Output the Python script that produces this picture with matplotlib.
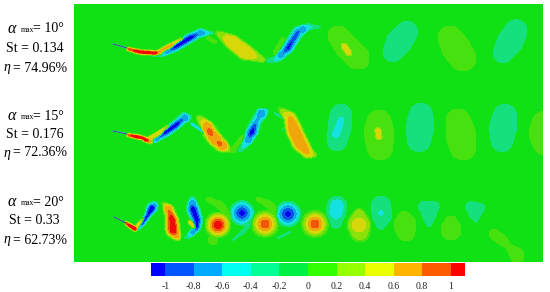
import numpy as np
import matplotlib
matplotlib.use('Agg')
import matplotlib.pyplot as plt
from matplotlib.colors import ListedColormap, BoundaryNorm
from matplotlib.cm import ScalarMappable

W, H = 550, 292

alpha_max = ['10°', '15°', '20°']
st = ['0.134', '0.176', '0.33']
eta = ['74.96%', '72.36%', '62.73%']
label_y = [(29, 49, 68), (116, 134, 153), (202, 220, 240)]

levels = [-1.1, -1, -0.8, -0.6, -0.4, -0.2, 0, 0.2, 0.4, 0.6, 0.8, 1, 1.1]
tick_values = [-1, -0.8, -0.6, -0.4, -0.2, 0, 0.2, 0.4, 0.6, 0.8, 1]
tick_labels = ['-1', '-0.8', '-0.6', '-0.4', '-0.2', '0', '0.2', '0.4', '0.6', '0.8', '1']

# colours as they look in the legend and (a bit darker) in the field
legend_colors = ['#0000ff', '#0055ff', '#00aaff', '#00fff0', '#00ff96', '#00f046',
                 '#32ff00', '#96ff00', '#ebff00', '#ffb400', '#ff5a00', '#ff0000']
field_colors = ['#0000eb', '#0a50eb', '#0fa5e6', '#14e1e1', '#14e17d', '#0fe114',
                '#46e10f', '#8ce10a', '#d7d70a', '#f0a50a', '#f0550a', '#f00a0a']
background = -0.1

# vorticity: each stroke is a list of (x, y, half width, value)
row1 = [
    [(150, 55, 2, -0.3), (163, 54, 3.5, -0.45), (175, 47, 6, -1.2), (190, 38, 6, -1.3),
     (200, 33, 5.5, -0.75), (213, 33, 2, -0.3)],
    [(113, 44, 1.2, -0.9), (127, 48, 1.4, -1.05)],
    [(128, 49, 1.8, 1.1), (140, 52, 2.5, 1.4), (155, 53, 2.5, 1.3), (160, 52, 2.2, 0.65)],
    [(160, 51, 1.8, 0.62), (172, 45, 2.5, 0.65), (182, 39, 1.8, 0.55)],
    [(208, 38, 1.5, 0.2), (215, 42, 1.5, 0.2)],
    [(218, 33, 2.5, 0.2), (232, 42, 7.5, 0.58), (245, 52, 8, 0.58), (263, 60, 2.5, 0.25)],
    [(265, 61, 2, -0.3), (277, 59, 4.5, -0.45), (288, 48, 7, -1.15), (298, 32, 7, -0.95),
     (308, 27, 4.5, -0.45), (320, 27, 1.8, -0.3)],
    [(275, 53, 2, 0.15), (283, 39, 1.5, 0.15)],
    [(338, 36, 10, 0.17), (347, 47, 12, 0.17), (358, 58, 11.5, 0.17)],
    [(344, 46, 2.8, 0.58), (349, 53, 2.8, 0.58)],
    [(407, 32, 12, -0.38), (399, 42, 14, -0.38), (393, 52, 11, -0.38)],
    [(450, 38, 12, 0.18), (456, 48, 14, 0.18), (463, 58, 13, 0.18)],
    [(516, 31, 12.5, -0.38), (510, 42, 14, -0.38), (503, 53, 11, -0.38)],
]
row2 = [
    [(113, 131, 1.2, -0.9), (127, 134, 1.4, -1.05)],
    [(128, 135, 1.8, 1.1), (138, 137, 2.5, 1.4), (143, 138, 2, 1.2), (146, 140, 2.5, 1.4), (150, 141, 2.8, 0.68)],
    [(148, 139, 1.8, 0.5), (158, 134, 2.2, 0.58), (168, 127, 2.2, 0.6)],
    [(155, 141, 3, -0.6), (166, 132, 6, -1.25), (176, 125, 6, -1.25), (184, 118, 6.5, -0.8), (190, 117, 3, -0.3)],
    [(192, 124, 2.5, -0.5), (204, 132, 2.5, -0.5)],
    [(199, 118, 3, 0.2), (206, 125, 5.5, 0.6), (210, 132, 8, 1.0), (214, 138, 7, 0.65),
     (220, 144, 7.5, 0.95), (228, 150, 3, 0.2)],
    [(233, 150, 2.5, 0.15), (243, 137, 1.8, 0.15)],
    [(240, 150, 3.5, -0.3), (247, 142, 5.5, -0.55), (252, 132, 7.5, -1.25), (256, 122, 6.5, -0.75),
     (261, 114, 7, -0.75), (268, 110, 2, -0.3)],
    [(275, 113, 1.8, -0.45), (285, 120, 1.8, -0.45)],
    [(282, 128, 1.5, -0.3), (285, 132, 1.5, -0.3)],
    [(280, 109, 2, 0.15), (290, 118, 6.5, 0.6), (294, 130, 8.5, 0.68), (300, 143, 8.5, 0.68),
     (308, 153, 5.5, 0.6), (315, 155, 2, 0.15)],
    [(341, 115, 12, -0.38), (340, 125, 13, -0.38), (337, 141, 11, -0.38)],
    [(341, 120, 4.5, -0.55), (336, 134, 5.5, -0.55)],
    [(379, 122, 12, 0.17), (379, 133, 15, 0.17), (380, 147, 13, 0.17)],
    [(378, 131, 3, 0.58), (379, 137, 2.8, 0.58)],
    [(421, 115, 13, -0.38), (420, 127, 15, -0.38), (419, 140, 13, -0.38)],
    [(458, 121, 12, 0.17), (461, 135, 15, 0.17), (463, 147, 13, 0.17)],
    [(505, 116, 13, -0.38), (503, 128, 15, -0.38), (502, 141, 12, -0.38)],
    [(545, 124, 13, 0.17), (544, 133, 15, 0.17), (545, 143, 12, 0.17)],
]
row3 = [
    [(114, 217, 1.2, -0.9), (126, 223, 1.4, -1.05)],
    [(126, 223, 1.8, 1.2), (135, 229, 2.5, 1.4)],
    [(136, 228, 1.8, 0.6), (147, 215, 1.8, 0.6)],
    [(137, 230, 2, -0.4), (142, 224, 4, -1.1), (148, 215, 4.5, -1.2), (152, 208, 7, -1.35), (156, 204, 3, -0.3)],
    [(164, 204, 2, 0.2), (169, 210, 5.5, 0.8), (172, 220, 7, 1.25), (173, 230, 8, 1.35), (178, 238, 3, 0.3)],
    [(190, 222, 1.8, 0.55), (195, 228, 1.8, 0.55)],
    [(192, 199, 4, -0.3), (193, 209, 8, -1.25), (197, 220, 7, -1.25), (197, 228, 5, -1.1),
     (190, 235, 4, -0.45), (185, 238, 2, -0.3)],
    [(218, 225, 13, 1.2)],
    [(208, 199, 2, 0.15), (220, 205, 3.5, 0.17), (229, 216, 3, 0.17)],
    [(213, 240, 5, 0.17)],
    [(242, 213, 13.5, -1.15)],
    [(233, 240, 2, -0.25), (243, 232, 3, -0.3), (250, 224, 3, -0.3)],
    [(265, 224, 13.5, 1.0)],
    [(258, 199, 2, 0.15), (270, 205, 3.5, 0.17), (277, 214, 3, 0.17)],
    [(288, 214, 14, -1.15)],
    [(278, 238, 2, -0.4), (290, 232, 2, -0.4)],
    [(315, 224, 13.5, 1.0)],
    [(337, 206, 11, -0.45), (336, 212, 11, -0.45), (336, 224, 6, -0.25)],
    [(359, 213, 5, 0.25), (359, 225, 12, 0.44), (360, 232, 10, 0.3)],
    [(381, 206, 11, -0.38), (382, 215, 11, -0.38), (381, 226, 5, -0.3)],
    [(381, 213, 3.5, -0.6)],
    [(404, 216, 5, 0.17), (405, 225, 11, 0.17), (406, 232, 9, 0.17)],
    [(424, 207, 7, -0.35), (434, 207, 6.5, -0.35)],
    [(429, 213, 9, -0.35), (429, 224, 4, -0.35)],
    [(451, 222, 6, 0.17), (451, 230, 10, 0.17)],
    [(471, 207, 6.5, -0.33), (480, 208, 6, -0.33)],
    [(475, 212, 8, -0.33), (476, 221, 2.5, -0.33)],
    [(494, 234, 5, 0.15), (502, 240, 5, 0.15), (508, 246, 2.5, 0.15), (517, 255, 7, 0.15), (518, 262, 4, 0.15)],
]

# fish bodies, thin dark line on top of the field
fish_x = [[113, 127], [113, 127], [114, 126]]
fish_y = [[44, 48], [131, 134], [217, 223]]


def add_stroke(field, x, y, nodes):
    # march a soft disc along the stroke, keep whichever value is furthest from the background
    nodes = np.array(nodes, dtype=float)
    if len(nodes) == 1:
        nodes = np.vstack([nodes, nodes])
    seg = np.hypot(np.diff(nodes[:, 0]), np.diff(nodes[:, 1]))
    s = np.concatenate([[0], np.cumsum(seg)])
    steps = np.arange(0, s[-1] + 0.5, 0.5)
    px = np.interp(steps, s, nodes[:, 0])
    py = np.interp(steps, s, nodes[:, 1])
    pw = np.interp(steps, s, nodes[:, 2])
    pv = np.interp(steps, s, nodes[:, 3])
    for cx, cy, w, v in zip(px, py, pw, pv):
        i0, i1 = np.searchsorted(x, [cx - w, cx + w])
        j0, j1 = np.searchsorted(y, [cy - w, cy + w])
        if i1 <= i0 or j1 <= j0:
            continue
        xx, yy = np.meshgrid(x[i0:i1], y[j0:j1])
        r = np.hypot(xx - cx, yy - cy) / w
        outer = 0.0 if v > 0 else -0.2
        # strong cores fall off like a cone, weak patches stay flat then drop at the edge
        q = 1.3 if abs(v) >= 0.75 else 4
        g = v + (outer - v) * r ** q
        g = np.maximum(g, background) if v > 0 else np.minimum(g, background)
        sub = field[j0:j1, i0:i1]
        mask = np.abs(g - background) > np.abs(sub - background)
        sub[mask] = g[mask]


def smooth(field):
    # rounds off the corners left by the discs
    kernel = np.array([1, 2, 3, 2, 1]) / 9
    out = np.apply_along_axis(lambda c: np.convolve(np.pad(c, 2, mode='edge'), kernel, mode='valid'), 0, field)
    out = np.apply_along_axis(lambda c: np.convolve(np.pad(c, 2, mode='edge'), kernel, mode='valid'), 1, out)
    return out


x = np.arange(74, 543.25, 0.5)
y = np.arange(4, 262.25, 0.5)
field = np.full((len(y), len(x)), background)
for strokes in (row1, row2, row3):
    for nodes in strokes:
        add_stroke(field, x, y, nodes)
field = np.clip(smooth(field), -1.09, 1.09)

fig = plt.figure(figsize=(W / 100, H / 100), dpi=100)
plt.rcParams['font.family'] = ['Liberation Serif', 'DejaVu Serif']

ax = fig.add_axes([74 / W, 1 - 262 / H, 469 / W, 258 / H])
ax.contourf(x, y, field, levels=levels, colors=field_colors)
for fx, fy in zip(fish_x, fish_y):
    ax.plot(fx, fy, color='#5a4070', lw=0.7, solid_capstyle='round')
ax.set_xlim(74, 543)
ax.set_ylim(262, 4)
ax.axis('off')

# colour bar under the field
cax = fig.add_axes([151 / W, 1 - 276 / H, 314 / W, 13 / H])
sm = ScalarMappable(norm=BoundaryNorm(levels, 12), cmap=ListedColormap(legend_colors))
cb = fig.colorbar(sm, cax=cax, orientation='horizontal', spacing='proportional',
                  ticks=tick_values, drawedges=False)
cb.ax.set_xticklabels(tick_labels, fontsize=7, color='#222222')
cb.ax.tick_params(which='both', length=0, pad=4.5)
cb.ax.minorticks_off()
cb.outline.set_visible(False)

# labels on the left, in figure pixels
tax = fig.add_axes([0, 0, 1, 1], facecolor='none')
tax.set_xlim(0, W)
tax.set_ylim(H, 0)
tax.axis('off')
fs = 10
for a, s, e, (y1, y2, y3) in zip(alpha_max, st, eta, label_y):
    tax.text(8, y1, 'α', fontsize=fs + 1.5, style='italic', va='center', ha='left')
    tax.text(21, y1 + 1, 'max', fontsize=5.5, va='center', ha='left')
    tax.text(33, y1, '= ' + a, fontsize=fs, va='center', ha='left')
    tax.text(34.5, y2, 'St = ' + s, fontsize=fs, va='center', ha='center')
    tax.text(3, y3, 'η', fontsize=fs, style='italic', va='center', ha='left')
    tax.text(13, y3, '= ' + e, fontsize=fs, va='center', ha='left')

fig.savefig('out.png', dpi=100)
